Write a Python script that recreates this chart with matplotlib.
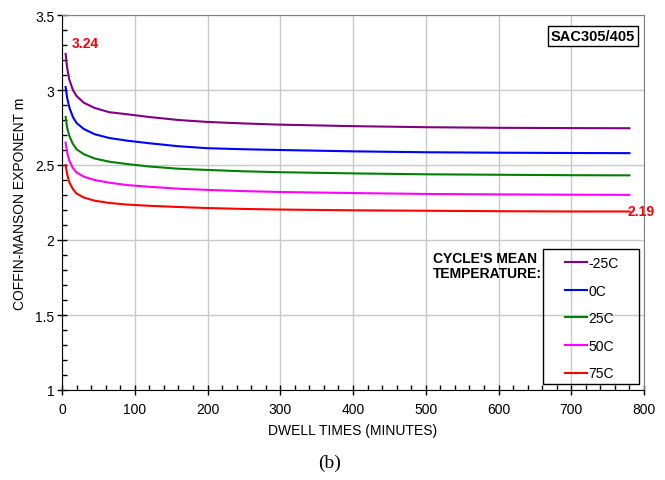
import matplotlib
matplotlib.use("Agg")
import matplotlib.pyplot as plt
from matplotlib.patches import Rectangle
from matplotlib.ticker import MultipleLocator

plt.rcParams['font.family'] = ['Liberation Sans', 'DejaVu Sans']

# dwell time (minutes) and Coffin-Manson exponent
dwell = [5, 7, 10, 15, 20, 30, 45, 65, 90, 120, 160, 200, 250, 300, 400, 500, 600, 700, 780]
m_m25 = [3.24, 3.15, 3.07, 3.00, 2.96, 2.915, 2.88, 2.852, 2.838, 2.82, 2.80, 2.787, 2.777, 2.769,
         2.759, 2.752, 2.748, 2.746, 2.745]
m_0 = [3.02, 2.95, 2.885, 2.82, 2.78, 2.74, 2.705, 2.68, 2.662, 2.645, 2.625, 2.612, 2.605, 2.60,
       2.591, 2.585, 2.582, 2.58, 2.579]
m_25 = [2.82, 2.75, 2.695, 2.64, 2.605, 2.572, 2.543, 2.522, 2.506, 2.49, 2.475, 2.467, 2.458, 2.452,
        2.444, 2.438, 2.435, 2.432, 2.431]
m_50 = [2.65, 2.585, 2.53, 2.48, 2.45, 2.422, 2.40, 2.382, 2.366, 2.355, 2.342, 2.334, 2.326, 2.32,
        2.313, 2.307, 2.304, 2.302, 2.301]
m_75 = [2.50, 2.44, 2.385, 2.34, 2.31, 2.283, 2.262, 2.247, 2.236, 2.228, 2.22, 2.213, 2.207, 2.203,
        2.198, 2.195, 2.192, 2.19, 2.19]

labels = ['-25C', '0C', '25C', '50C', '75C']
colors = ['#800080', '#0000FF', '#008000', '#FF00FF', '#FF0000']

fig = plt.figure(figsize=(6.65, 4.81), dpi=100)
ax = fig.add_axes([62 / 665, 90 / 481, 582 / 665, 375 / 481])

for series, lab, col in zip([m_m25, m_0, m_25, m_50, m_75], labels, colors):
    ax.plot(dwell, series, color=col, lw=1.5, label=lab)

ax.set_xlim(0, 800)
ax.set_ylim(1, 3.5)
ax.xaxis.set_major_locator(MultipleLocator(100))
ax.xaxis.set_minor_locator(MultipleLocator(20))
ax.yaxis.set_major_locator(MultipleLocator(0.5))
ax.yaxis.set_minor_locator(MultipleLocator(0.1))
ax.yaxis.set_major_formatter(plt.FuncFormatter(lambda v, p: ('%g' % v)))
ax.grid(True, which='major', color='#c8c8c8', lw=1)
ax.set_axisbelow(True)
ax.tick_params(which='major', direction='inout', length=7, width=1, labelsize=10, pad=2)
ax.tick_params(which='minor', direction='in', length=3.5, width=1)
ax.tick_params(axis='x', pad=5)
for s in ['top', 'right']:
    ax.spines[s].set_color('#808080')
for s in ['left', 'bottom']:
    ax.spines[s].set_color('black')

ax.set_xlabel('DWELL TIMES (MINUTES)', fontsize=10, labelpad=5)
ax.set_ylabel('COFFIN-MANSON EXPONENT m', fontsize=10, labelpad=6)

ax.text(dwell[0] + 9, 3.313, '%.2f' % m_m25[0], color='red', fontsize=10, fontweight='bold',
        ha='left', va='center')
ax.text(dwell[-1] - 2, m_75[-1], '%.2f' % m_75[-1], color='red', fontsize=10, fontweight='bold',
        ha='left', va='center')

ax.text(0.985, 0.962, 'SAC305/405', transform=ax.transAxes, fontsize=10.5, fontweight='bold',
        ha='right', va='top',
        bbox=dict(boxstyle='square,pad=0.2', fc='white', ec='black', lw=1))

fig.text(433 / 665, 1 - 252 / 481, "CYCLE'S MEAN\nTEMPERATURE:", fontsize=10, fontweight='bold',
         ha='left', va='top', linespacing=1.05)

fig.add_artist(Rectangle((543 / 665, 1 - 385 / 481), 96 / 665, 135 / 481, transform=fig.transFigure,
                         fill=False, ec='black', lw=1))
ax.legend(loc='upper left', bbox_to_anchor=(565 / 665, 1 - 257 / 481), bbox_transform=fig.transFigure,
          frameon=False, borderpad=0, borderaxespad=0, handlelength=1.55, handletextpad=0.15,
          labelspacing=0.98, fontsize=10)

fig.text(330 / 665, 1 - 463 / 481, '(b)', fontsize=14, family='Liberation Serif', ha='center', va='center')

fig.savefig('out.png', dpi=100)
